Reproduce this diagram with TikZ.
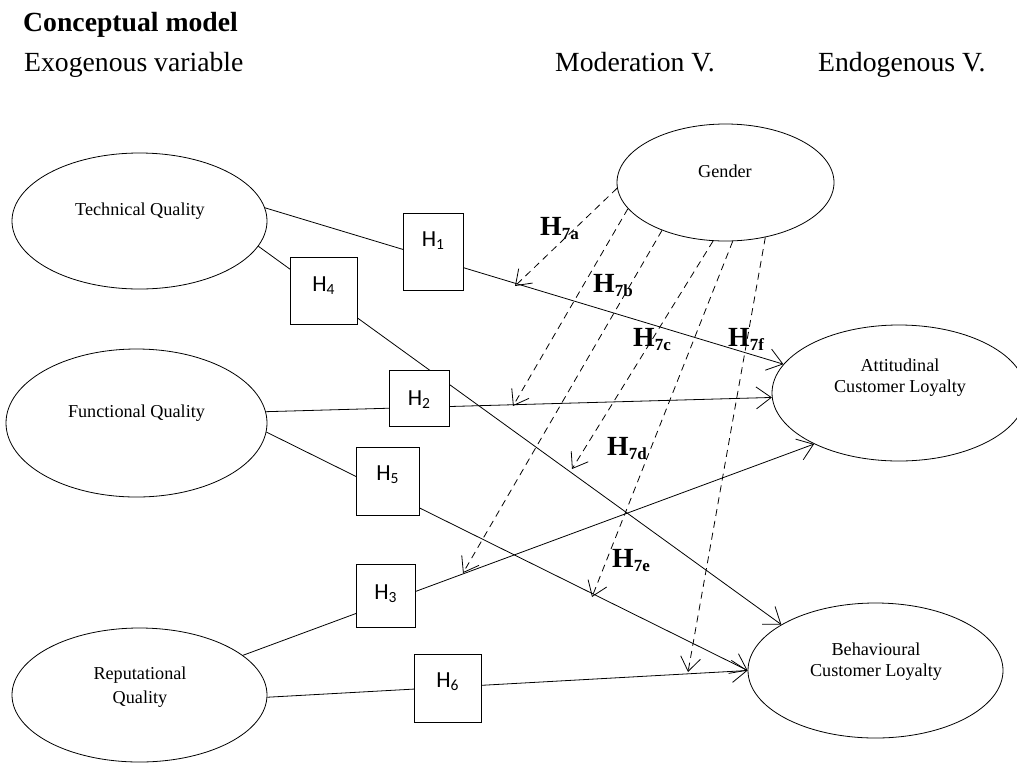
\documentclass[tikz,border=0pt]{standalone}
\usepackage{fontspec}
\setmainfont{Liberation Serif}
\newfontfamily\boxfont{Carlito}
\usetikzlibrary{arrows.meta,shapes.geometric}
\begin{document}
\begin{tikzpicture}[x=1pt,y=-1pt,
  ell/.style={ellipse, draw, line width=0.8pt, inner sep=0pt},
  etxt/.style={anchor=base, inner sep=0pt, font=\fontsize{18.2}{21}\selectfont},
  head/.style={anchor=base west, inner sep=0pt, font=\fontsize{27.7}{32}\selectfont},
  hbox/.style={draw, fill=white, line width=0.8pt, inner sep=0pt},
  hlab/.style={anchor=base, inner sep=0pt, font=\boxfont\fontsize{23}{26}\selectfont},
  mlab/.style={anchor=base west, inner sep=0pt, font=\fontsize{27.7}{32}\selectfont\bfseries},
  link/.style={line width=0.8pt, -{Straight Barb[length=15pt,width=22pt]}},
  modl/.style={line width=0.8pt, dash pattern=on 7pt off 5pt, -{Straight Barb[length=14pt,width=20pt]}}
]
\useasboundingbox (0,0) rectangle (1017,764);
\clip (0,0) rectangle (1017,764);

% headings
\node[head, font=\fontsize{27.7}{32}\selectfont\bfseries] (title) at (23,31.7) {Conceptual model};
\node[head] (exo) at (24,71) {Exogenous variable};
\node[head] (mod) at (555,71) {Moderation V.};
\node[head] (endo) at (818,71) {Endogenous V.};

% ellipses
\node[ell, minimum width=255, minimum height=136] (tq) at (139.5,221) {};
\node[ell, minimum width=261, minimum height=148] (fq) at (136.5,423) {};
\node[ell, minimum width=255, minimum height=134] (rq) at (139.5,695) {};
\node[ell, minimum width=217, minimum height=117] (gen) at (725.5,182.5) {};
\node[ell, minimum width=254, minimum height=136] (att) at (899,393) {};
\node[ell, minimum width=255, minimum height=135] (beh) at (875.5,670.5) {};

\node[etxt] (tqt) at (140,215.7) {Technical Quality};
\node[etxt] (fqt) at (136.5,417.3) {Functional Quality};
\node[etxt] (rqt1) at (140,679.3) {Reputational};
\node[etxt] (rqt2) at (140,703) {Quality};
\node[etxt] (gent) at (725,177.3) {Gender};
\node[etxt] (attt1) at (900,371.7) {Attitudinal};
\node[etxt] (attt2) at (900,392.5) {Customer Loyalty};
\node[etxt] (beht1) at (876,655) {Behavioural};
\node[etxt] (beht2) at (876,676) {Customer Loyalty};

% direct paths
\draw[link] (tq.6) -- (att.166);
\draw[link] (tq.348) -- (beh.154);
\draw[link] (fq.5) -- (att.182);
\draw[link] (fq.356) -- (beh.180);
\draw[link] (rq.21) -- (att.211);
\draw[link] (rq.359) -- (beh.180);

% hypothesis boxes
\node[hbox, minimum width=60, minimum height=77] (h1) at (433,251.5) {};
\node[hbox, minimum width=67, minimum height=67] (h4) at (323.5,290.5) {};
\node[hbox, minimum width=60, minimum height=56] (h2) at (419,398) {};
\node[hbox, minimum width=63, minimum height=68] (h5) at (387.5,481) {};
\node[hbox, minimum width=59, minimum height=63] (h3) at (385.5,595.5) {};
\node[hbox, minimum width=67, minimum height=68] (h6) at (447.5,688) {};

\node[hlab] (h1t) at (433,246.7) {H\raisebox{-3pt}{\fontsize{15.5}{15.5}\selectfont 1}};
\node[hlab] (h4t) at (323.5,291.7) {H\raisebox{-3pt}{\fontsize{15.5}{15.5}\selectfont 4}};
\node[hlab] (h2t) at (419,405) {H\raisebox{-3pt}{\fontsize{15.5}{15.5}\selectfont 2}};
\node[hlab] (h5t) at (387.5,480.7) {H\raisebox{-3pt}{\fontsize{15.5}{15.5}\selectfont 5}};
\node[hlab] (h3t) at (385.5,599) {H\raisebox{-3pt}{\fontsize{15.5}{15.5}\selectfont 3}};
\node[hlab] (h6t) at (447.5,687) {H\raisebox{-3pt}{\fontsize{15.5}{15.5}\selectfont 6}};

% moderation targets
\coordinate (t7a) at (515,286);
\coordinate (t7b) at (513,406);
\coordinate (t7c) at (572,469);
\coordinate (t7d) at (463,573);
\coordinate (t7e) at (592,597);
\coordinate (t7f) at (688,672);

\draw[modl] (gen.183) -- (t7a);
\draw[modl] (gen.195) -- (t7b);
\draw[modl] (gen.258) -- (t7c);
\draw[modl] (gen.217) -- (t7d);
\draw[modl] (gen.277) -- (t7e);
\draw[modl] (gen.306) -- (t7f);

% moderation labels
\node[mlab] (l7a) at (540,235) {H\raisebox{-4pt}{\fontsize{17}{17}\selectfont 7a}};
\node[mlab] (l7b) at (593,292) {H\raisebox{-4pt}{\fontsize{17}{17}\selectfont 7b}};
\node[mlab] (l7c) at (633,346) {H\raisebox{-4pt}{\fontsize{17}{17}\selectfont 7c}};
\node[mlab] (l7f) at (728,346) {H\raisebox{-4pt}{\fontsize{17}{17}\selectfont 7f}};
\node[mlab] (l7d) at (607,455) {H\raisebox{-4pt}{\fontsize{17}{17}\selectfont 7d}};
\node[mlab] (l7e) at (612,567) {H\raisebox{-4pt}{\fontsize{17}{17}\selectfont 7e}};
\end{tikzpicture}
\end{document}
